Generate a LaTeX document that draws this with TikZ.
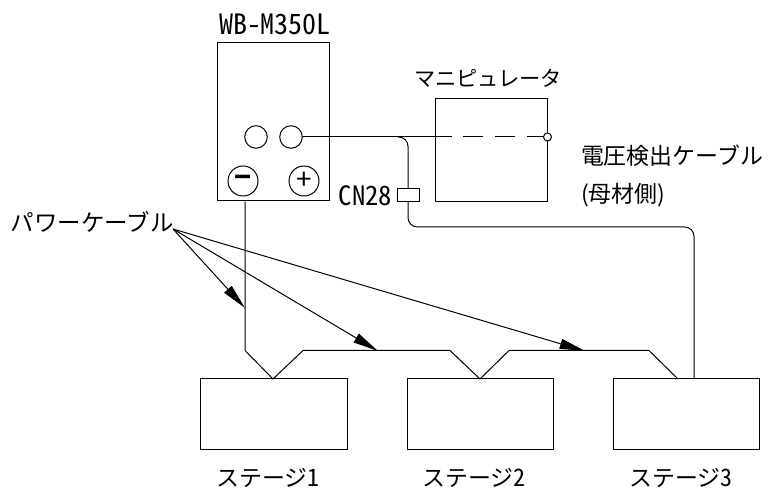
\documentclass[tikz,border=0pt]{standalone}
\usepackage{fontspec}
\usetikzlibrary{arrows.meta}
\newfontfamily\jpfont{Noto Sans CJK JP}
\newfontfamily\hwfont[RawFeature=+hwid]{Noto Sans CJK JP}
\newcommand{\jptext}{\jpfont\fontsize{17.2pt}{20pt}\selectfont}
\newcommand{\hwtext}{\hwfont\fontsize{21pt}{24pt}\selectfont}
\newcommand{\hwcn}{\hwfont\fontsize{20pt}{24pt}\selectfont}
\newcommand{\hwd}[1]{{\hwfont\fontsize{18pt}{20pt}\selectfont #1}}
\tikzset{
  x=0.75pt,y=-0.75pt,
  line/.style={draw=black,line width=0.75pt,line join=miter},
  boxshape/.style={line,rectangle,inner sep=0pt,outer sep=0pt,anchor=north west,fill=none},
  portc/.style={line,circle,inner sep=0pt,outer sep=0pt,minimum size=16.9pt},
  polec/.style={line,circle,inner sep=0pt,outer sep=0pt,minimum size=22.5pt,font=\jpfont\fontsize{21pt}{21pt}\selectfont},
  pointer/.style={line,-{Triangle[length=19pt,width=7.5pt]},shorten >=0pt},
  label/.style={inner sep=0pt,outer sep=0pt,font=\jptext},
}
\begin{document}
\begin{tikzpicture}
\useasboundingbox (0,0) rectangle (769,491);
% boxes
\node[boxshape,minimum width=84pt,minimum height=118.5pt] (wb) at (217.5,43) {};
\node[boxshape,minimum width=84pt,minimum height=77pt] (manip) at (435,99) {};
\node[boxshape,minimum width=110pt,minimum height=53pt] (s1) at (200.5,379) {};
\node[boxshape,minimum width=110pt,minimum height=53pt] (s2) at (407,379) {};
\node[boxshape,minimum width=110pt,minimum height=53pt] (s3) at (613,379) {};
% ports
\node[portc] (p1) at (256,137) {};
\node[portc] (p2) at (291,137) {};
\node[polec] (minus) at (243,181) {\bfseries −};
\node[polec] (plus) at (304,181) {+};
\node[line,circle,inner sep=0pt,outer sep=0pt,minimum size=6pt,fill=white] (end) at (547.5,137) {};
% named coordinates
\coordinate (m1) at (245,201.5);
\coordinate (b1) at (245,350.5);
\coordinate (v1) at (273,379);
\coordinate (b2) at (303,350.5);
\coordinate (b3) at (450,350.5);
\coordinate (v2) at (480,379);
\coordinate (b4) at (509,350.5);
\coordinate (b5) at (649,350.5);
\coordinate (v3) at (678,379);
\coordinate (low) at (408,227);
\coordinate (right) at (694,227);
\coordinate (drop) at (694,379);
\coordinate (solidend) at (452,137);
\coordinate (from) at (173,229);
\coordinate (t1) at (245,308);
\coordinate (t2) at (378,351);
\coordinate (t3) at (585,351);
% cables
\draw[line] (m1) -- (b1) -- (v1) -- (b2) -- (b3) -- (v2) -- (b4) -- (b5) -- (v3);
\draw[line] (p2) -- (solidend);
\draw[line,dash pattern=on 15pt off 9pt] (463,137) -- (end);
\draw[line,rounded corners=7pt] (398,137) -| (low) -- (right) -- (drop);
% connector
\node[line,rectangle,fill=white,inner sep=0pt,outer sep=0pt,minimum width=16.5pt,minimum height=9.75pt] (cn) at (408,195.5) {};
% pointers
\draw[pointer] (from) -- (t1);
\draw[pointer] (from) -- (t2);
\draw[pointer] (from) -- (t3);
% labels
\node[label,font=\hwtext] (lwb) at (275,24) {WB-M350L};
\node[label,font=\hwcn,anchor=east] (lcn) at (392,196) {CN28};
\node[label,font=\jpfont\fontsize{15.9pt}{20pt}\selectfont] (lman) at (488,78) {マニピュレータ};
\node[label,anchor=west] (lv1) at (581,156) {電圧検出ケーブル};
\node[label,anchor=west] (lv2) at (581,195) {(母材側)};
\node[label,anchor=west,font=\jpfont\fontsize{17.6pt}{20pt}\selectfont] (lp) at (11,222) {パワーケーブル};
\node[label] (ls1) at (268,478) {ステージ\hwd{1}};
\node[label] (ls2) at (474,478) {ステージ\hwd{2}};
\node[label] (ls3) at (681,478) {ステージ\hwd{3}};
\end{tikzpicture}
\end{document}
